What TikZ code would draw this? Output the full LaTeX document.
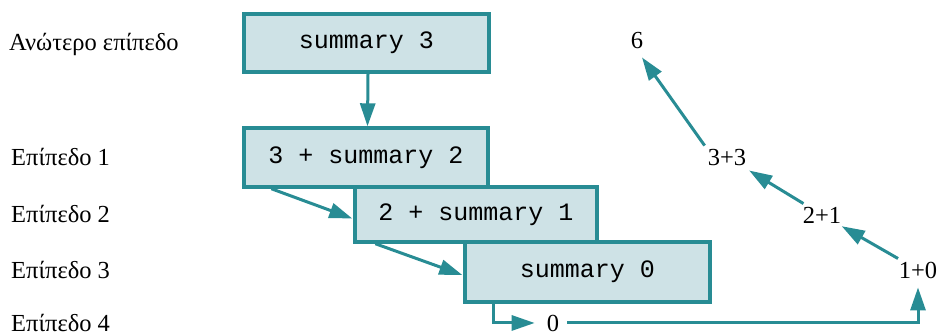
\documentclass[tikz,border=0pt]{standalone}
\usepackage{fontspec}
\setmainfont{Liberation Serif}
\setmonofont{Liberation Mono}
\usetikzlibrary{arrows.meta,calc}
\definecolor{tealline}{RGB}{40,140,148}
\definecolor{boxfill}{RGB}{206,226,230}
\begin{document}
\begin{tikzpicture}[x=1pt,y=-1pt,
  lvl/.style={anchor=base west, font=\fontsize{24.5}{28}\selectfont, inner sep=0pt},
  num/.style={anchor=base, font=\fontsize{24.5}{28}\selectfont, inner sep=3pt},
  sbox/.style={draw=tealline, fill=boxfill, line width=3.4pt, font=\ttfamily\fontsize{25}{30}\selectfont, inner sep=0pt},
  arr/.style={draw=tealline, line width=3pt, -{Triangle[length=23pt,width=15pt]}},
]
\useasboundingbox (0,0) rectangle (939,335);
% boxes
\node[sbox, minimum width=245pt, minimum height=58pt] (s3) at (366.5,43) {summary 3};
\node[sbox, minimum width=244pt, minimum height=59pt] (s2) at (366,157.5) {3 + summary 2};
\node[sbox, minimum width=242pt, minimum height=55pt] (s1) at (476,214.5) {2 + summary 1};
\node[sbox, minimum width=245pt, minimum height=60pt] (s0) at (587.5,272) {summary 0};
% level labels
\node[lvl] (l0) at (9,50) {Ανώτερο επίπεδο};
\node[lvl] (l1) at (11,165) {Επίπεδο 1};
\node[lvl] (l2) at (11,222) {Επίπεδο 2};
\node[lvl] (l3) at (11,278) {Επίπεδο 3};
\node[lvl] (l4) at (11,331) {Επίπεδο 4};
% numbers
\node[num] (n6) at (637,48) {6};
\node[num] (n33) at (727,165) {3+3};
\node[num] (n21) at (822,223) {2+1};
\node[num] (n10) at (918,278) {1+0};
\node[num] (n0) at (553,331) {0};
% connectors
\draw[arr] ($(s3.south)+(1.5,0)$) -- ($(s2.north)+(1.5,0)$);
\draw[arr] ($(s2.south west)+(29,0)$) -- ($(s1.west)+(-1,4)$);
\draw[arr] ($(s1.south west)+(22,0)$) -- ($(s0.west)+(-1,3)$);
\draw[arr] ($(s0.south west)+(30,0)$) |- ($(n0.west)+(-9,0)$);
\draw[arr] ($(n0.east)+(5,0)$) -| ($(n10.south)+(0,6)$);
\draw[arr] (n10) -- (n21);
\draw[arr, shorten >=4pt] (n21) -- (n33);
\draw[arr] (n33.north west) -- ($(n6.south)+(5,6)$);
\end{tikzpicture}
\end{document}
